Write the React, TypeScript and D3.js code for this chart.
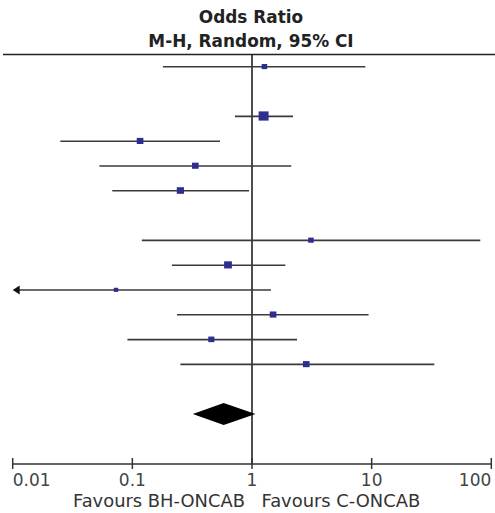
import React from "react";
import * as d3 from "d3";

// Study rows (row slot in the plot, odds ratio, 95% CI, weight %)
const rowSlot = [0, 2, 3, 4, 5, 7, 8, 9, 10, 11, 12];
const oddsRatio = [1.27, 1.25, 0.116, 0.336, 0.252, 3.11, 0.63, 0.073, 1.5, 0.457, 2.84];
const ciLower = [0.18, 0.72, 0.025, 0.053, 0.068, 0.12, 0.214, 0.003, 0.236, 0.091, 0.252];
const ciUpper = [8.85, 2.2, 0.54, 2.13, 0.944, 80.9, 1.9, 1.44, 9.43, 2.38, 33.4];
const weights = [6.1, 19.7, 8.7, 8.7, 10.2, 6.1, 11.9, 3.9, 8.7, 7.3, 8.7];

// Pooled estimate
const pooledSlot = 14;
const pooledOR = [0.58];
const pooledLower = [0.32];
const pooledUpper = [1.07];

const tickValues = [0.01, 0.1, 1, 10, 100];
const tickLabels = ["0.01", "0.1", "1", "10", "100"];
const titleLines = ["Odds Ratio", "M-H, Random, 95% CI"];
const favoursLeft = "Favours BH-ONCAB";
const favoursRight = "Favours C-ONCAB";

const W = 495;
const H = 513;

export default function App() {
  const x = d3.scaleLog().domain([0.01, 100]).range([12.7, 491.3]);
  const y = d3.scaleLinear().domain([0, 14]).range([66.8, 414]);
  const size = d3.scaleSqrt().domain([0, d3.max(weights) as number]).range([0, 10]);
  const xMin = x.range()[0];
  const xMax = x.range()[1];
  const clampX = (v: number) => Math.max(xMin, Math.min(xMax, x(v)));
  const axisY = 464;
  const topY = 54.5;
  const font = "'DejaVu Sans', Verdana, sans-serif";
  const pY = y(pooledSlot);
  const diamond = d3.line()([
    [x(pooledLower[0]), pY],
    [x(pooledOR[0]), pY - 11],
    [x(pooledUpper[0]), pY],
    [x(pooledOR[0]), pY + 11],
  ]) + "Z";

  return (
    <svg width={W} height={H} style={{ position: "absolute", left: 0, top: 0, background: "#fff" }}>
      <text x={251} y={23} textAnchor="middle" fontFamily={font} fontWeight="bold" fontSize={16.9} fill="#222">
        {titleLines[0]}
      </text>
      <text x={251} y={46.5} textAnchor="middle" fontFamily={font} fontWeight="bold" fontSize={16.9} fill="#222">
        {titleLines[1]}
      </text>
      <line x1={3} x2={W} y1={topY} y2={topY} stroke="#222" strokeWidth={1.6} />
      <line x1={x(1)} x2={x(1)} y1={topY} y2={axisY} stroke="#222" strokeWidth={1.6} />

      {rowSlot.map((s, i) => {
        const cy = y(s);
        const lo = clampX(ciLower[i]);
        const hi = clampX(ciUpper[i]);
        const sz = size(weights[i]);
        const arrowLeft = x(ciLower[i]) < xMin;
        return (
          <g key={i}>
            <line x1={arrowLeft ? lo + 5 : lo} x2={hi} y1={cy} y2={cy} stroke="#3a3a3a" strokeWidth={1.6} />
            {arrowLeft && (
              <path d={`M${lo},${cy}L${lo + 7},${cy - 4.5}L${lo + 7},${cy + 4.5}Z`} fill="#111" />
            )}
            <rect x={x(oddsRatio[i]) - sz / 2} y={cy - sz / 2} width={sz} height={sz * 0.92} fill="#2e2e8e" />
          </g>
        );
      })}

      <path d={diamond} fill="#000" />

      <line x1={xMin} x2={xMax} y1={axisY} y2={axisY} stroke="#333" strokeWidth={1.5} />
      {tickValues.map((t, i) => (
        <g key={t}>
          <line x1={x(t)} x2={x(t)} y1={axisY - 6} y2={axisY + 5} stroke="#333" strokeWidth={1.5} />
          <text
            x={x(t)}
            y={486}
            textAnchor={i === 0 ? "start" : i === tickValues.length - 1 ? "end" : "middle"}
            fontFamily={font}
            fontSize={17}
            fill="#444"
          >
            {tickLabels[i]}
          </text>
        </g>
      ))}
      <text x={245} y={506.5} textAnchor="end" fontFamily={font} fontSize={17.9} fill="#333">
        {favoursLeft}
      </text>
      <text x={261.5} y={506.5} textAnchor="start" fontFamily={font} fontSize={17.9} fill="#333">
        {favoursRight}
      </text>
    </svg>
  );
}
